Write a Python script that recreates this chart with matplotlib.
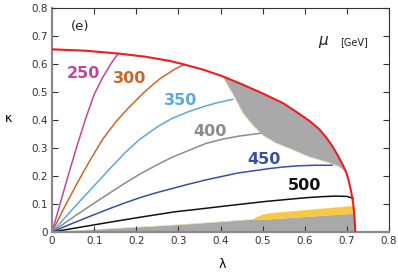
import numpy as np
import matplotlib
matplotlib.use("Agg")
import matplotlib.pyplot as plt

# red boundary (lambda, kappa)
red_lam = [0, 0.08, 0.157, 0.22, 0.279, 0.314, 0.36, 0.405, 0.45, 0.5, 0.55, 0.59,
           0.612, 0.634, 0.652, 0.665, 0.678, 0.69, 0.698, 0.704, 0.71, 0.715, 0.718, 0.72]
red_kap = [0.651, 0.646, 0.636, 0.625, 0.61, 0.597, 0.578, 0.555, 0.527, 0.494, 0.458, 0.418,
           0.395, 0.367, 0.335, 0.307, 0.274, 0.24, 0.214, 0.185, 0.145, 0.102, 0.055, 0.0]

# mu curves
mu_labels = ["250", "300", "350", "400", "450", "500"]
mu_colors = ["#c0479e", "#c8692b", "#5aa9df", "#8c8c8c", "#3650a8", "#111111"]
mu_lam = [
    [0, 0.02, 0.04, 0.06, 0.08, 0.1, 0.12, 0.14, 0.157],
    [0, 0.03, 0.06, 0.09, 0.12, 0.15, 0.18, 0.22, 0.255, 0.291, 0.314],
    [0, 0.03, 0.06, 0.1, 0.14, 0.175, 0.208, 0.25, 0.285, 0.326, 0.358, 0.39, 0.429],
    [0, 0.03, 0.062, 0.1, 0.141, 0.175, 0.208, 0.25, 0.287, 0.33, 0.366, 0.405, 0.444,
     0.47, 0.495],
    [0, 0.05, 0.1, 0.141, 0.175, 0.208, 0.245, 0.285, 0.32, 0.366, 0.44, 0.515, 0.55,
     0.586, 0.625, 0.665],
    [0, 0.07, 0.141, 0.21, 0.291, 0.35, 0.43, 0.507, 0.6, 0.64, 0.673, 0.7, 0.715],
]
mu_kap = [
    [0, 0.105, 0.21, 0.31, 0.405, 0.49, 0.55, 0.6, 0.636],
    [0, 0.09, 0.175, 0.255, 0.33, 0.39, 0.44, 0.5, 0.545, 0.58, 0.597],
    [0, 0.05, 0.1, 0.165, 0.23, 0.285, 0.33, 0.375, 0.405, 0.43, 0.446, 0.46, 0.473],
    [0, 0.032, 0.065, 0.103, 0.143, 0.176, 0.206, 0.24, 0.268, 0.294, 0.316, 0.331, 0.342,
     0.347, 0.352],
    [0, 0.032, 0.062, 0.086, 0.105, 0.122, 0.139, 0.155, 0.169, 0.186, 0.21, 0.226, 0.232,
     0.236, 0.238, 0.238],
    [0, 0.018, 0.036, 0.053, 0.072, 0.082, 0.096, 0.109, 0.122, 0.126, 0.128, 0.127, 0.12],
]
label_lam = [0.074, 0.184, 0.305, 0.374, 0.504, 0.6]
label_kap = [0.565, 0.547, 0.47, 0.357, 0.26, 0.167]

# shaded regions
upper_low_lam = [0.405, 0.418, 0.43, 0.454, 0.477, 0.5, 0.53, 0.563, 0.61, 0.657, 0.68, 0.698]
upper_low_kap = [0.555, 0.52, 0.49, 0.422, 0.38, 0.345, 0.318, 0.298, 0.268, 0.247, 0.234, 0.214]
wedge_lam = [0, 0.291, 0.35, 0.478, 0.515, 0.715, 0.718, 0.72, 0]
wedge_kap = [0, 0.025, 0.031, 0.045, 0.046, 0.066, 0.066, 0, 0]
yellow_lam = [0.478, 0.485, 0.5, 0.515, 0.715, 0.717, 0.717, 0.515, 0.478]
yellow_kap = [0.045, 0.052, 0.061, 0.066, 0.092, 0.092, 0.066, 0.046, 0.045]

xticks = [0, 0.1, 0.2, 0.3, 0.4, 0.5, 0.6, 0.7, 0.8]
yticks = [0, 0.1, 0.2, 0.3, 0.4, 0.5, 0.6, 0.7, 0.8]
tick_text = ["0", "0.1", "0.2", "0.3", "0.4", "0.5", "0.6", "0.7", "0.8"]

fig = plt.figure(figsize=(3.98, 2.73), dpi=100)
ax = fig.add_axes([0.1307, 0.150, 0.8467, 0.8225])

# upper gray region: red between the end points plus the lower edge back
r_lam = np.array(red_lam)
r_kap = np.array(red_kap)
sel = (r_lam >= 0.405) & (r_lam <= 0.698)
poly_lam = list(r_lam[sel]) + upper_low_lam[::-1]
poly_kap = list(r_kap[sel]) + upper_low_kap[::-1]
ax.fill(poly_lam, poly_kap, color="#a9a9a9", ec="#e6dfb8", lw=0.6, zorder=1)
ax.fill(wedge_lam, wedge_kap, color="#a9a9a9", ec="#e6dfb8", lw=0.5, zorder=1)
ax.fill(yellow_lam, yellow_kap, color="#f7c843", ec="#f7c843", lw=0.3, zorder=1)

for lam, kap, c in zip(mu_lam, mu_kap, mu_colors):
    ax.plot(lam, kap, color=c, lw=1.1, zorder=2)

ax.plot(red_lam, red_kap, color="#ee1c25", lw=1.5, zorder=3)

for t, x, y, c in zip(mu_labels, label_lam, label_kap, mu_colors):
    ax.text(x, y, t, color=c, fontsize=11.5, fontweight="bold", ha="center", va="center")

ax.text(0.066, 0.731, "(e)", fontsize=9.5, ha="center", va="center", color="#222222")
ax.text(0.645, 0.676, r"$\mu$", fontsize=11, ha="center", va="center", color="#222222")
ax.text(0.717, 0.676, "[GeV]", fontsize=7, ha="center", va="center", color="#222222")

ax.set_xlim(0, 0.8)
ax.set_ylim(0, 0.8)
ax.set_xticks(xticks)
ax.set_yticks(yticks)
ax.set_xticklabels(tick_text)
ax.set_yticklabels(tick_text)
ax.tick_params(direction="in", length=4, width=0.8, labelsize=7.5, colors="#333333",
               top=True, right=True, pad=3)
for s in ["left", "bottom"]:
    ax.spines[s].set_color("#8a8a8a")
    ax.spines[s].set_linewidth(1.6)
for s in ["top", "right"]:
    ax.spines[s].set_color("#333333")
    ax.spines[s].set_linewidth(0.8)

fig.text(9 / 398, 1 - 119 / 273, "κ", fontsize=9, ha="center", va="center")
fig.text(222 / 398, 1 - 265 / 273, "λ", fontsize=9, ha="center", va="center")

fig.savefig("out.png", dpi=100)
